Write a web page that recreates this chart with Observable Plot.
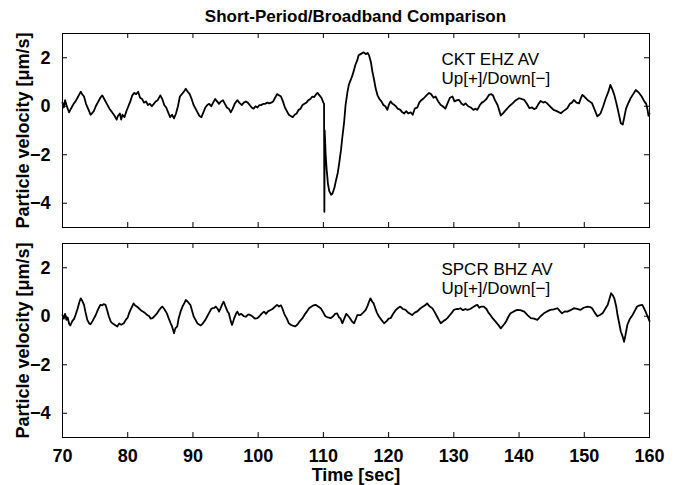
<!DOCTYPE html>
<html><head><meta charset="utf-8">
<script src="https://cdn.jsdelivr.net/npm/d3@7"></script>
<script src="https://cdn.jsdelivr.net/npm/@observablehq/plot@0.6"></script>
<style>
body{margin:0;background:#fff;}
#wrap{width:676px;height:485px;position:relative;font-family:"Liberation Sans",Arial,sans-serif;}
#title{height:28px;box-sizing:border-box;padding-top:7px;margin-left:62px;width:587px;text-align:center;font-weight:bold;font-size:17px;line-height:20px;color:#000;}
svg{display:block;}
</style></head>
<body><div id="wrap"><div id="title">Short-Period/Broadband Comparison</div></div>
<script>
const xTicks = [70,80,90,100,110,120,130,140,150,160];
const yTicks = [-4,-2,0,2];
const labels = ["CKT EHZ AV\nUp[+]/Down[−]", "SPCR BHZ AV\nUp[+]/Down[−]"];
const annX = 128.1, annY = 2.25;

const cktT = [70.0,70.2,70.4,70.6,70.8,71.0,71.2,71.5,71.7,72.0,72.3,72.6,72.8,73.0,73.3,73.6,74.0,74.3,74.5,74.8,75.1,75.4,75.8,76.1,76.4,76.8,77.2,77.6,78.0,78.3,78.5,78.8,79.0,79.2,79.5,79.8,80.1,80.4,80.7,81.0,81.3,81.6,81.9,82.2,82.5,82.8,83.1,83.4,83.7,84.0,84.3,84.6,85.0,85.3,85.6,85.9,86.2,86.5,86.8,87.1,87.4,87.7,88.0,88.3,88.6,88.9,89.2,89.5,89.8,90.1,90.4,90.7,91.0,91.3,91.6,91.9,92.2,92.5,92.8,93.1,93.4,93.7,94.0,94.3,94.6,94.9,95.2,95.5,95.8,96.1,96.4,96.8,97.1,97.5,97.8,98.1,98.4,98.7,99.0,99.3,99.6,99.9,100.2,100.5,100.8,101.1,101.4,101.7,102.0,102.3,102.6,102.9,103.2,103.5,103.8,104.1,104.4,104.7,105.0,105.3,105.6,105.9,106.2,106.5,106.8,107.1,107.4,107.7,108.0,108.3,108.6,108.9,109.1,109.4,109.7,110.0,110.1,110.15,110.2,110.35,110.5,110.7,110.9,111.2,111.4,111.7,111.9,112.2,112.4,112.7,112.9,113.2,113.4,113.7,113.9,114.2,114.4,114.7,114.9,115.2,115.4,115.7,116.0,116.2,116.5,116.8,117.0,117.3,117.5,117.8,118.0,118.3,118.6,118.9,119.2,119.5,119.8,120.1,120.3,120.6,120.9,121.1,121.4,121.8,122.1,122.4,122.7,123.0,123.4,123.7,124.0,124.4,124.7,125.0,125.4,125.8,126.2,126.5,126.9,127.2,127.6,128.0,128.3,128.7,129.0,129.4,129.8,130.1,130.5,130.8,131.2,131.5,131.8,132.2,132.6,133.0,133.3,133.6,134.0,134.3,134.6,135.0,135.4,135.7,136.0,136.3,136.7,137.0,137.2,137.5,138.0,138.5,139.0,139.5,140.0,140.4,140.8,141.2,141.6,142.0,142.3,142.6,143.0,143.3,143.7,144.0,144.3,144.8,145.3,145.8,146.4,146.8,147.4,147.8,148.1,148.4,148.8,149.2,149.5,149.7,150.0,150.5,150.8,151.2,151.6,152.0,152.3,152.5,152.9,153.3,153.7,154.0,154.3,154.6,154.9,155.1,155.4,155.6,155.9,156.1,156.4,156.7,157.1,157.5,157.9,158.2,158.4,158.8,159.2,159.5,159.7,159.85,160.0];
const cktV = [0.15,-0.05,0.25,0.05,-0.1,-0.25,-0.15,0.0,0.1,0.2,0.35,0.5,0.6,0.5,0.4,0.1,-0.15,-0.35,-0.3,-0.2,0.0,0.15,0.35,0.45,0.3,0.1,-0.1,-0.25,-0.4,-0.55,-0.4,-0.3,-0.55,-0.35,-0.45,-0.2,0.0,0.2,0.45,0.55,0.5,0.6,0.35,0.3,0.15,0.2,0.05,0.1,0.0,0.1,0.2,0.25,0.45,0.3,0.05,-0.05,-0.25,-0.45,-0.35,-0.5,-0.3,0.0,0.4,0.5,0.6,0.72,0.6,0.5,0.3,0.05,-0.1,-0.25,-0.4,-0.45,-0.25,-0.05,0.05,0.1,0.0,0.15,0.3,0.2,0.1,0.2,0.25,0.1,-0.05,-0.1,-0.25,-0.1,0.1,0.25,0.15,0.05,0.15,0.2,0.15,0.05,-0.05,-0.1,0.0,-0.05,0.05,0.05,0.1,0.1,0.15,0.12,0.15,0.2,0.35,0.5,0.45,0.4,0.2,-0.05,-0.2,-0.35,-0.4,-0.45,-0.35,-0.3,-0.15,-0.1,0.05,0.1,0.15,0.25,0.3,0.4,0.38,0.5,0.55,0.45,0.35,0.15,0.1,-4.35,-1.0,-2.0,-2.6,-3.2,-3.5,-3.65,-3.6,-3.35,-3.1,-2.75,-2.4,-1.8,-1.3,-0.6,0.05,0.6,0.88,1.1,1.23,1.5,1.7,1.9,2.1,2.15,2.2,2.22,2.15,2.2,2.1,1.8,1.45,1.05,0.75,0.45,0.3,0.2,0.05,0.0,-0.15,0.1,0.2,0.1,0.05,0.0,-0.1,-0.15,-0.25,-0.3,-0.2,-0.3,-0.25,-0.35,-0.1,-0.05,0.15,0.25,0.33,0.45,0.55,0.5,0.35,0.4,0.2,0.05,0.0,-0.1,0.1,0.35,0.4,0.2,0.25,0.26,0.1,0.05,0.12,0.0,-0.05,-0.15,-0.1,-0.15,0.05,0.15,0.2,0.3,0.47,0.5,0.45,0.25,0.05,-0.2,-0.38,-0.3,-0.15,0.0,0.12,0.25,0.33,0.3,0.26,0.1,-0.08,-0.05,-0.12,-0.08,0.1,0.22,0.15,0.18,0.12,-0.02,-0.15,-0.2,-0.29,-0.2,-0.08,0.1,0.15,0.26,0.15,0.12,0.35,0.47,0.4,0.26,0.2,0.12,-0.15,-0.42,-0.35,-0.29,0.0,0.33,0.6,0.88,0.7,0.47,0.15,-0.08,-0.45,-0.7,-0.75,-0.5,-0.1,0.1,0.33,0.5,0.67,0.6,0.55,0.4,0.2,0.1,-0.15,-0.4,-0.3];

const spcrT = [70.0,70.2,70.4,70.6,70.8,71.0,71.2,71.5,71.8,72.0,72.3,72.6,72.8,73.0,73.3,73.5,73.8,74.1,74.3,74.6,74.8,75.1,75.4,75.8,76.1,76.3,76.6,76.9,77.1,77.4,77.7,78.0,78.4,78.7,79.0,79.4,79.7,80.0,80.2,80.5,80.9,81.1,81.4,81.7,82.0,82.3,82.7,83.0,83.3,83.5,83.8,84.1,84.5,84.8,85.1,85.3,85.6,86.0,86.3,86.6,86.8,87.1,87.3,87.6,87.8,88.1,88.4,88.7,88.9,89.2,89.6,89.9,90.1,90.4,90.7,91.0,91.2,91.5,91.9,92.2,92.5,92.8,93.0,93.3,93.5,93.8,94.0,94.2,94.5,94.7,95.0,95.3,95.5,95.8,96.0,96.3,96.6,96.8,97.1,97.4,97.8,98.1,98.5,98.8,99.1,99.5,99.9,100.2,100.5,100.9,101.2,101.5,101.9,102.2,102.6,102.9,103.2,103.5,103.7,104.0,104.4,104.7,105.0,105.4,105.7,106.0,106.4,106.8,107.2,107.5,107.8,108.2,108.5,108.8,109.2,109.6,110.0,110.3,110.7,111.1,111.5,111.8,112.1,112.4,112.6,112.9,113.2,113.5,113.7,114.0,114.4,114.7,115.0,115.2,115.7,116.1,116.5,116.8,117.0,117.2,117.5,117.7,118.0,118.2,118.5,118.9,119.3,119.7,120.0,120.3,120.7,121.1,121.5,121.8,122.2,122.6,123.0,123.3,123.6,124.0,124.4,124.9,125.3,125.6,125.9,126.3,126.7,127.0,127.4,127.7,128.0,128.4,128.7,129.0,129.4,129.7,130.0,130.4,130.7,131.0,131.4,131.8,132.1,132.5,132.8,133.1,133.4,133.6,133.9,134.2,134.6,135.0,135.3,135.6,136.0,136.4,136.8,137.2,137.5,137.8,138.0,138.4,138.7,139.2,139.7,140.2,140.8,141.3,141.8,142.3,142.8,143.3,143.8,144.3,144.8,145.3,145.9,146.3,146.6,147.0,147.4,147.9,148.4,148.9,149.4,149.9,150.5,150.9,151.2,151.6,152.0,152.4,152.8,153.2,153.6,153.9,154.1,154.4,154.6,154.9,155.1,155.4,155.6,155.9,156.1,156.3,156.6,157.0,157.4,157.8,158.1,158.5,158.9,159.2,159.4,159.7,160.0];
const spcrV = [0.05,-0.1,0.1,-0.15,-0.05,-0.3,-0.38,-0.2,-0.1,0.05,0.3,0.6,0.74,0.65,0.47,0.2,-0.15,-0.3,-0.33,-0.2,-0.1,0.05,0.25,0.47,0.45,0.5,0.47,0.2,0.0,-0.22,-0.3,-0.35,-0.42,-0.3,-0.35,-0.29,-0.15,-0.05,0.12,0.3,0.53,0.45,0.4,0.33,0.25,0.2,0.12,0.05,0.0,-0.1,-0.08,0.0,0.12,0.25,0.35,0.4,0.3,0.12,-0.1,-0.3,-0.42,-0.7,-0.5,-0.42,-0.1,0.19,0.4,0.55,0.67,0.6,0.47,0.2,0.0,-0.15,-0.3,-0.35,-0.38,-0.3,-0.15,0.0,0.15,0.3,0.33,0.35,0.4,0.3,0.19,0.3,0.5,0.6,0.4,0.2,0.12,-0.2,-0.36,-0.1,0.1,0.19,0.05,0.1,0.0,-0.02,0.08,0.05,0.0,-0.1,-0.08,0.0,0.1,0.19,0.1,0.2,0.26,0.3,0.4,0.47,0.4,0.45,0.33,0.1,-0.1,-0.29,-0.35,-0.4,-0.42,-0.35,-0.2,-0.08,0.1,0.2,0.33,0.4,0.45,0.47,0.4,0.33,0.15,0.0,-0.05,-0.08,0.0,0.1,0.12,-0.05,-0.08,-0.29,-0.1,0.1,0.05,-0.05,-0.22,-0.29,-0.1,0.05,0.05,0.15,0.26,0.45,0.6,0.74,0.6,0.53,0.3,0.15,0.0,-0.15,-0.29,-0.2,-0.1,-0.08,0.1,0.26,0.35,0.4,0.3,0.26,0.15,0.1,0.05,0.15,0.2,0.33,0.4,0.45,0.53,0.4,0.33,0.2,0.0,-0.15,-0.29,-0.2,-0.15,-0.08,0.05,0.15,0.26,0.3,0.3,0.33,0.25,0.3,0.26,0.3,0.35,0.4,0.45,0.47,0.35,0.4,0.4,0.3,0.15,0.05,-0.1,-0.22,-0.35,-0.5,-0.4,-0.3,-0.22,0.0,0.12,0.2,0.26,0.25,0.19,0.05,-0.08,-0.1,-0.15,0.0,0.12,0.2,0.26,0.28,0.33,0.2,0.12,0.2,0.19,0.25,0.33,0.3,0.26,0.35,0.4,0.38,0.33,0.15,0.0,0.05,0.12,0.3,0.47,0.75,0.95,0.85,0.74,0.4,0.05,-0.35,-0.63,-0.85,-1.05,-0.8,-0.36,-0.1,0.05,0.25,0.4,0.45,0.47,0.3,0.19,0.0,-0.2];

const FRAME_H = 194, FRAME_W = 587;
const fontFamily = '"Liberation Sans", Arial, sans-serif';

function panel(T, V, label, bottom) {
  const data = T.map((t, i) => ({t, v: V[i]}));
  return Plot.plot({
    width: 676,
    height: bottom ? 250 : 207,
    marginLeft: 62, marginRight: 27,
    marginTop: bottom ? 8 : 5,
    marginBottom: bottom ? 48 : 8,
    style: {fontFamily, fontSize: "18px", fontWeight: "bold", color: "black", background: "white", overflow: "visible"},
    x: {domain: [70, 160], ticks: xTicks, tickSize: 0, tickPadding: 12, tickFormat: d => String(d),
        axis: bottom ? "bottom" : null, label: bottom ? "Time [sec]" : null, labelAnchor: "center", labelOffset: 43, labelArrow: false},
    y: {domain: [-5, 3], ticks: yTicks, tickSize: 0, tickPadding: 12,
        label: "Particle velocity [μm/s]", labelAnchor: "center", labelOffset: 46, labelArrow: false},
    marks: [
      Plot.frame({stroke: "black", strokeWidth: 1}),
      Plot.tickX(xTicks, {x: d => d, insetBottom: FRAME_H - 5, stroke: "black"}),
      Plot.tickX(xTicks, {x: d => d, insetTop: FRAME_H - 5, stroke: "black"}),
      Plot.tickY(yTicks, {y: d => d, insetRight: FRAME_W - 5, stroke: "black"}),
      Plot.tickY(yTicks, {y: d => d, insetLeft: FRAME_W - 5, stroke: "black"}),
      Plot.line(data, {x: "t", y: "v", stroke: "black", strokeWidth: 1.8}),
      Plot.text([label], {x: annX, y: annY, text: d => d, textAnchor: "start", lineAnchor: "top",
        fontSize: 17, fontWeight: "normal", lineHeight: 1.12, fill: "black"})
    ]
  });
}

const wrap = document.getElementById("wrap");
wrap.appendChild(panel(cktT, cktV, labels[0], false));
wrap.appendChild(panel(spcrT, spcrV, labels[1], true));
</script>
</body></html>
